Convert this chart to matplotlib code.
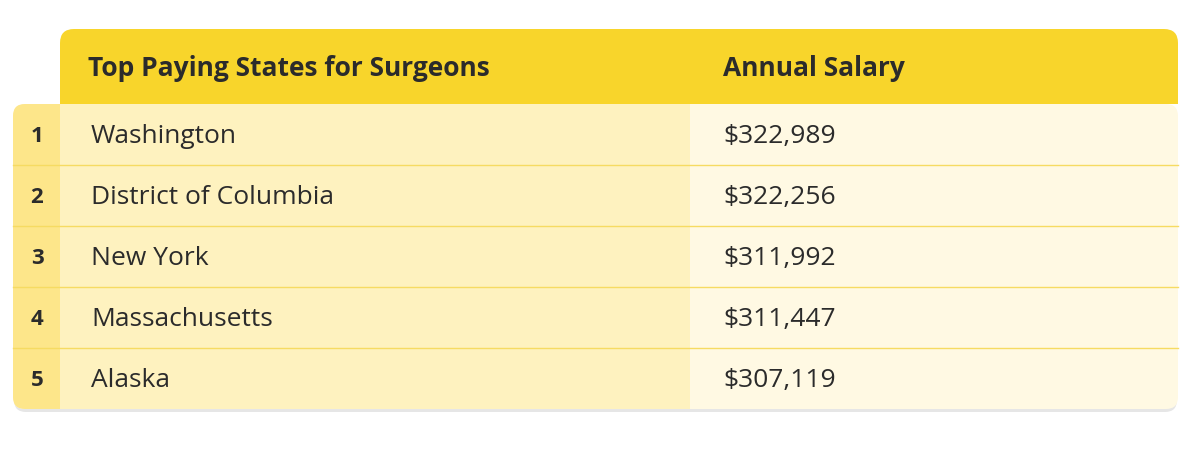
import matplotlib
matplotlib.use("Agg")
import matplotlib.pyplot as plt
from matplotlib.patches import FancyBboxPatch, Rectangle

headers = ["Top Paying States for Surgeons", "Annual Salary"]
ranks = ["1", "2", "3", "4", "5"]
states = ["Washington", "District of Columbia", "New York", "Massachusetts", "Alaska"]
salaries = ["$322,989", "$322,256", "$311,992", "$311,447", "$307,119"]

W, H = 1200, 452
fig = plt.figure(figsize=(W/100, H/100), dpi=100)
ax = fig.add_axes([0, 0, 1, 1])
ax.set_xlim(0, W); ax.set_ylim(H, 0); ax.axis("off")

FONT = ["Open Sans", "DejaVu Sans"]
top, head_h, row_h = 30, 75, 61
x0, xidx, xsplit, x1 = 13, 60, 690, 1178
body_top = top + head_h
body_bot = body_top + row_h * len(states)

ax.add_patch(FancyBboxPatch((x0+1, body_top+3), x1-x0-2, body_bot-body_top, boxstyle="round,pad=0,rounding_size=12",
                            fc="#e6e6e6", ec="none", zorder=0))
ax.add_patch(FancyBboxPatch((x0, body_top), x1-x0, body_bot-body_top, boxstyle="round,pad=0,rounding_size=12",
                            fc="#FFF9E3", ec="none", zorder=1))
ax.add_patch(Rectangle((xidx, body_top), xsplit-xidx, body_bot-body_top, fc="#FEF2BF", ec="none", zorder=2))
ax.add_patch(FancyBboxPatch((x0, body_top), xidx-x0+10, body_bot-body_top, boxstyle="round,pad=0,rounding_size=12",
                            fc="#FDE68A", ec="none", zorder=2))
ax.add_patch(Rectangle((xidx, body_top), 12, body_bot-body_top, fc="#FEF2BF", ec="none", zorder=2))
ax.add_patch(Rectangle((xidx-2, body_top), 2, body_bot-body_top, fc="#FDE68A", ec="none", zorder=2))
ax.add_patch(FancyBboxPatch((xidx, top), x1-xidx, head_h, boxstyle="round,pad=0,rounding_size=14",
                            fc="#F8D52B", ec="none", zorder=3))
ax.add_patch(Rectangle((xidx, top+30), x1-xidx, head_h-30, fc="#F8D52B", ec="none", zorder=3))

ax.text(88, top+head_h/2+1, headers[0], fontsize=19, fontweight="bold", color="#2b2b2b",
        va="center", ha="left", family=FONT, zorder=5)
ax.text(723, top+head_h/2+1, headers[1], fontsize=19, fontweight="bold", color="#2b2b2b",
        va="center", ha="left", family=FONT, zorder=5)

for i, (r, s, v) in enumerate(zip(ranks, states, salaries)):
    yc = body_top + row_h*(i+0.5) + 1
    if i > 0:
        ax.plot([x0, x1], [body_top+row_h*i]*2, color="#F6DB62", lw=1, zorder=4)
    ax.text(37, yc, r, fontsize=16, fontweight="bold", color="#2b2b2b", ha="center", va="center", family=FONT, zorder=5)
    ax.text(91, yc, s, fontsize=19, color="#2b2b2b", ha="left", va="center", family=FONT, zorder=5)
    ax.text(723, yc, v, fontsize=19, color="#2b2b2b", ha="left", va="center", family=FONT, zorder=5)

fig.savefig("out.png", dpi=100, facecolor="white")
